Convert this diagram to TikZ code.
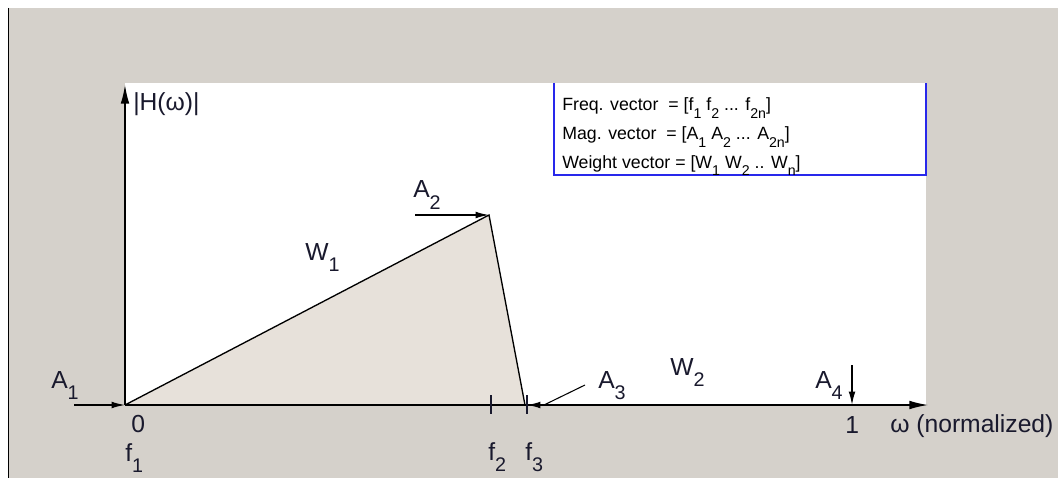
\documentclass[tikz,border=0pt]{standalone}
\usepackage{fontspec}
\setmainfont{Liberation Sans}
\usetikzlibrary{arrows.meta}
\definecolor{bg}{RGB}{213,209,203}
\definecolor{tri}{RGB}{231,225,218}
\definecolor{lblc}{RGB}{25,25,45}
\definecolor{legblue}{RGB}{40,40,235}
\newcommand\lowsub[1]{\raisebox{-0.45em}{\scalebox{0.8}{#1}}}
\begin{document}
\begin{tikzpicture}[x=0.75pt,y=-0.75pt,
  lbl/.style={inner sep=0pt, anchor=base west, text=lblc, font=\fontsize{18.5}{20}\selectfont},
  leg/.style={inner sep=0pt, anchor=base west, text=black, font=\fontsize{13.3}{15}\selectfont},
  axisline/.style={line width=1pt, -{Latex[length=14pt,width=6.5pt]}},
  ampline/.style={line width=1pt, -{Latex[length=10pt,width=5pt]}},
  curve/.style={line width=1pt, black},
  tickline/.style={line width=1pt, lblc},
  legline/.style={line width=1.2pt, legblue}]
\useasboundingbox (0,0) rectangle (1058,478);
% background
\fill[white] (0,0) rectangle (1058,478);
\fill[bg] (8,8) rectangle (1058,478);
\draw[line width=1.2pt, black] (8.5,8) -- (8.5,478);
\fill[white] (125,83) rectangle (926,405);
% coordinates
\coordinate (O) at (125,405);
\coordinate (Ytop) at (125,85);
\coordinate (Xend) at (928,405);
\coordinate (P) at (489,215);
\coordinate (F3) at (525,405);
\coordinate (A1s) at (74,405);
\coordinate (A2s) at (415,215);
\coordinate (A3s) at (585,385);
\coordinate (A3k) at (544,405);
\coordinate (A3t) at (527,405);
\coordinate (A4s) at (852,365);
\coordinate (A4t) at (852,405);
\coordinate (T2a) at (491,395);
\coordinate (T2b) at (491,414);
\coordinate (T3a) at (527,395);
\coordinate (T3b) at (527,414);
% triangle
\fill[tri] (O) -- (P) -- (F3) -- cycle;
\draw[curve] (O) -- (P) -- (F3);
% legend box
\draw[legline] (554,83) -- (554,175) -- (926,175) -- (926,83);
% axes
\draw[axisline] (O) -- (Ytop);
\draw[axisline] (O) -- (Xend);
% ticks
\draw[tickline] (T2a) -- (T2b);
\draw[tickline] (T3a) -- (T3b);
% amplitude arrows
\draw[ampline] (A1s) -- (O);
\draw[ampline] (A2s) -- (P);
\draw[line width=0.8pt] (A3s) -- (A3k);
\draw[ampline] (A3k) -- (A3t);
\draw[ampline] (A4s) -- (A4t);
% labels
\node[lbl] (hw) at (133,111) {|H(ω)|};
\node[lbl] (a1) at (51,388) {A\lowsub{1}};
\node[lbl] (zero) at (131,432) {0};
\node[lbl] (f1) at (125,461) {f\lowsub{1}};
\node[lbl] (w1) at (305,260) {W\lowsub{1}};
\node[lbl] (a2) at (413,198) {A\lowsub{2}};
\node[lbl] (a3) at (598,388) {A\lowsub{3}};
\node[lbl] (w2) at (670,375) {W\lowsub{2}};
\node[lbl] (a4) at (815,388) {A\lowsub{4}};
\node[lbl] (one) at (845,433) {1};
\node[lbl] (wn) at (890,432) {ω (normalized)};
\node[lbl] (f2) at (488,460) {f\lowsub{2}};
\node[lbl] (f3) at (525,460) {f\lowsub{3}};
% legend text
\node[leg] (lfreq) at (562,111) {Freq. vector\ \ = [f\lowsub{1} f\lowsub{2} ... f\lowsub{2n}]};
\node[leg] (lmag) at (562,140) {Mag. vector\ \ = [A\lowsub{1} A\lowsub{2} ... A\lowsub{2n}]};
\node[leg] (lwt) at (562,168) {Weight vector = [W\lowsub{1} W\lowsub{2} .. W\lowsub{n}]};
\end{tikzpicture}
\end{document}
